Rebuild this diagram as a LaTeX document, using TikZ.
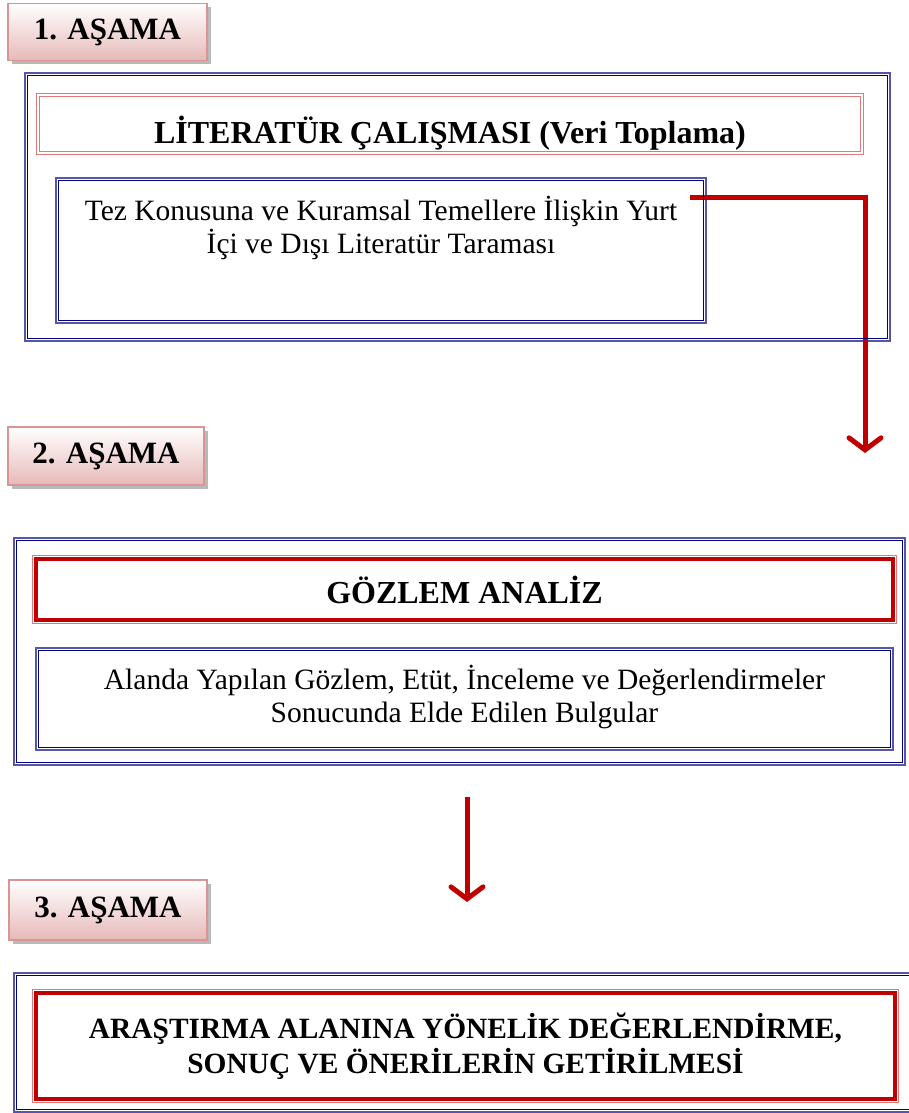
\documentclass[tikz,border=0pt]{standalone}
\usepackage{fontspec}
\setmainfont{Liberation Serif}
\usetikzlibrary{arrows.meta,shadows}

\definecolor{frameblue}{HTML}{5555AA}
\definecolor{navyline}{HTML}{000080}
\definecolor{titlered}{HTML}{C00000}
\definecolor{softred}{HTML}{E07878}
\definecolor{stagepink}{HTML}{E6B9B8}
\definecolor{stageedge}{HTML}{D99594}

\tikzset{
    stagebox/.style={draw=stageedge, line width=1.5pt, top color=white, bottom color=stagepink,
        font=\fontsize{31}{36}\bfseries\selectfont,
        drop shadow={shadow xshift=4pt, shadow yshift=-4pt, fill=gray!55, opacity=1}},
    frame/.style={draw=frameblue, line width=2pt},
    thintitle/.style={draw=softred, line width=0.9pt, double=white, double distance=1.4pt,
        text height=38pt, text depth=0pt, font=\fontsize{32}{37}\bfseries\selectfont},
    bigtitle/.style={draw=titlered, line width=4pt, align=center,
        font=\fontsize{32}{37}\bfseries\selectfont},
    bodytext/.style={align=center, inner sep=0pt, font=\fontsize{29.5}{33}\selectfont},
    redarrow/.style={draw=titlered, line width=5pt, -{Straight Barb[length=12pt, width=32pt, line cap=round]}}
}

\begin{document}
\begin{tikzpicture}[x=1pt, y=-1pt]
    \useasboundingbox (0,0) rectangle (909,1113);

    % 1. asama
    \node[stagebox, minimum width=199pt, minimum height=57pt] (asama1) at (107.5,32) {1. AŞAMA};
    \node[frame, minimum width=865pt, minimum height=268pt] (cerceve1) at (457.5,207) {};
    \node[thintitle, minimum width=824pt, minimum height=58pt] (baslik1) at (450,124) {LİTERATÜR ÇALIŞMASI (Veri Toplama)};
    \node[frame, minimum width=650pt, minimum height=145pt] (kutu1) at (381,250.5) {};
    \node[bodytext] (metin1) at (381,228) {Tez Konusuna ve Kuramsal Temellere İlişkin Yurt\\İçi ve Dışı Literatür Taraması};

    \coordinate (ok1bas) at (690,197);
    \coordinate (ok1uc) at (865,453);
    \draw[redarrow] (ok1bas) -| (ok1uc);

    % 2. asama
    \node[stagebox, minimum width=196pt, minimum height=58pt] (asama2) at (106,456) {2. AŞAMA};
    \node[frame, minimum width=891pt, minimum height=227pt] (cerceve2) at (459.5,651.5) {};
    \node[bigtitle, minimum width=857pt, minimum height=61pt] (baslik2) at (464.5,589.5) {GÖZLEM ANALİZ};
    \node[frame, minimum width=857pt, minimum height=102pt] (kutu2) at (464.5,699) {};
    \node[bodytext] (metin2) at (464.5,697) {Alanda Yapılan Gözlem, Etüt, İnceleme ve Değerlendirmeler\\Sonucunda Elde Edilen Bulgular};

    \coordinate (ok2bas) at (467,797);
    \coordinate (ok2uc) at (467,902);
    \draw[redarrow] (ok2bas) -- (ok2uc);

    % 3. asama
    \node[stagebox, minimum width=198pt, minimum height=60pt] (asama3) at (108,910) {3. AŞAMA};
    \node[frame, minimum width=911pt, minimum height=139pt] (cerceve3) at (469.5,1042.5) {};
    \node[bigtitle, minimum width=859pt, minimum height=106pt, font=\fontsize{29.4}{35}\bfseries\selectfont] (baslik3) at (465.5,1046) {ARAŞTIRMA ALANINA YÖNELİK DEĞERLENDİRME,\\SONUÇ VE ÖNERİLERİN GETİRİLMESİ};

    % ic cizgiler
    \foreach \k in {cerceve1,kutu1,cerceve2,kutu2,cerceve3}
        \draw[navyline, line width=0.9pt] ([shift={(3.5pt,-3.5pt)}]\k.north west) rectangle ([shift={(-3.5pt,3.5pt)}]\k.south east);
    \foreach \k in {baslik2,baslik3}
        \draw[softred, line width=1pt] ([shift={(-1.5pt,1.5pt)}]\k.north west) rectangle ([shift={(1.5pt,-1.5pt)}]\k.south east);

\end{tikzpicture}
\end{document}
